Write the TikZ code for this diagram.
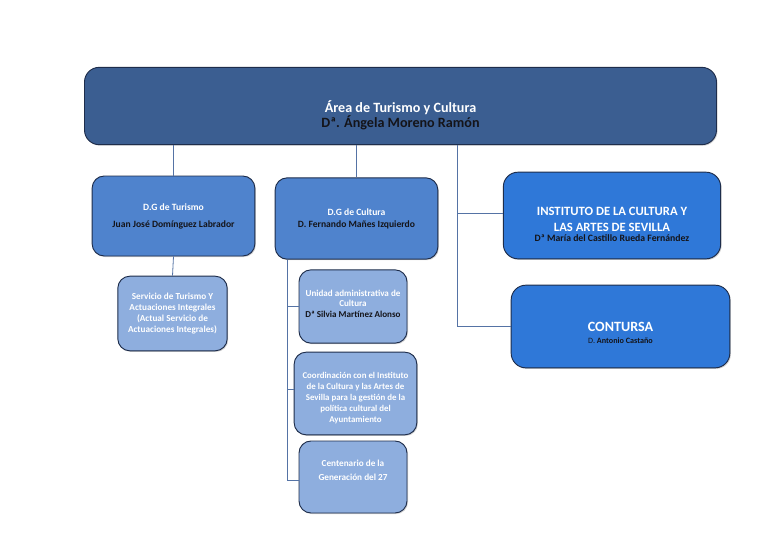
\documentclass[tikz,border=0pt]{standalone}
\usepackage{fontspec}
\setmainfont{Carlito}
\usepackage{tikz}
\usetikzlibrary{positioning,shadows}
\definecolor{topcol}  {RGB}{59, 94, 145}
\definecolor{dgcol}   {RGB}{79, 131, 205}
\definecolor{brightcol}{RGB}{47, 120, 216}
\definecolor{lightcol}{RGB}{142, 174, 222}
\definecolor{edgecol} {RGB}{30, 45, 75}
\definecolor{linecol} {RGB}{85, 115, 165}
\definecolor{darktext}{RGB}{20, 20, 25}

\begin{document}
\begin{tikzpicture}[
  x=0.75pt,y=-0.75pt,
  box/.style={rectangle,rounded corners=11pt,draw=edgecol,line width=0.7pt,
              align=center,inner sep=2pt,text=white,
              drop shadow={opacity=0.35,shadow xshift=0.8pt,shadow yshift=-0.8pt}},
  topbox/.style={box,fill=topcol,font=\bfseries\fontsize{10.6}{11.25}\selectfont},
  dgbox/.style={box,fill=dgcol,rounded corners=9pt,font=\bfseries\fontsize{7.2}{9}\selectfont},
  insbox/.style={box,fill=brightcol,rounded corners=11pt},
  subbox/.style={box,fill=lightcol,rounded corners=9pt,font=\bfseries\fontsize{6.9}{8.25}\selectfont},
  link/.style={draw=linecol,line width=0.6pt}
]
\useasboundingbox (0,0) rectangle (768,540);
% top level
\node[topbox,minimum width=474pt,minimum height=58pt,
      text height=34.5pt,text depth=3pt] (area) at (400.5,106)
  {Área de Turismo y Cultura\\
   \color{darktext}Dª. Ángela Moreno Ramón};
% direcciones generales
\node[dgbox,minimum width=122pt,minimum height=60pt,
      text height=18.5pt,text depth=2pt] (dgt) at (173.5,216)
  {D.G de Turismo\\[3.75pt]\color{darktext}Juan José Domínguez Labrador};
\node[dgbox,minimum width=122pt,minimum height=61pt,
      text height=16.2pt,text depth=2pt] (dgc) at (356.5,218.5)
  {D.G de Cultura\\\color{darktext}D. Fernando Mañes Izquierdo};
% instituto y contursa
\node[insbox,minimum width=163pt,minimum height=65pt,
      font=\bfseries\fontsize{9.5}{12}\selectfont,
      text height=41.7pt,text depth=2pt] (ins) at (612,215.5)
  {INSTITUTO DE LA CULTURA Y\\LAS ARTES DE SEVILLA\\[-4.5pt]
   \color{darktext}\fontsize{7.3}{9}\selectfont Dª María del Castillo Rueda Fernández};
\node[insbox,minimum width=164pt,minimum height=62pt,
      font=\bfseries\fontsize{10.6}{9.75}\selectfont,
      text height=26.8pt,text depth=2pt] (con) at (620.5,326.5)
  {CONTURSA\\[-0.75pt]
   \color{darktext}\fontsize{6.1}{8}\selectfont\mdseries D. \bfseries Antonio Castaño};
% servicios
\node[subbox,minimum width=82pt,minimum height=56pt,
      text height=31.2pt,text depth=2pt] (serv) at (172.5,313.5)
  {Servicio de Turismo Y\\Actuaciones Integrales\\(Actual Servicio de\\Actuaciones Integrales)};
\node[subbox,minimum width=81pt,minimum height=55pt,font=\bfseries\fontsize{6.8}{7.8}\selectfont,
      text height=17.8pt,text depth=2pt] (unid) at (353,306.5)
  {Unidad administrativa de\\Cultura\\\color{darktext}Dª Silvia Martínez Alonso};
\node[subbox,minimum width=92pt,minimum height=62pt,font=\bfseries\fontsize{6.65}{8.25}\selectfont,
      text height=44.8pt,text depth=2pt] (coord) at (355.5,393.5)
  {Coordinación con el Instituto\\de la Cultura y las Artes de\\Sevilla para la gestión de la\\política cultural del\\Ayuntamiento};
\node[subbox,minimum width=81pt,minimum height=54pt,font=\bfseries\fontsize{6.9}{10.5}\selectfont,
      text height=6.5pt,text depth=2pt] (cent) at (353,477)
  {Centenario de la\\Generación del 27};
% connectors
\coordinate (cbus) at (287,0);
\coordinate (ibus) at (457,0);
\draw[link] (area.south -| dgt.north) -- (dgt.north);
\draw[link] (area.south -| dgc.north) -- (dgc.north);
\draw[link] (dgt.south) -- (serv.north);
\draw[link] (dgc.south -| cbus) -- (cbus |- 0,480) -- (cent.west |- 0,480);
\draw[link] (cbus |- unid.west) -- (unid.west);
\draw[link] (cbus |- 0,389) -- (coord.west |- 0,389);
\draw[link] (area.south -| ibus) -- (ibus |- con.west) -- (con.west);
\draw[link] (ibus |- 0,213) -- (ins.west |- 0,213);
\end{tikzpicture}
\end{document}
